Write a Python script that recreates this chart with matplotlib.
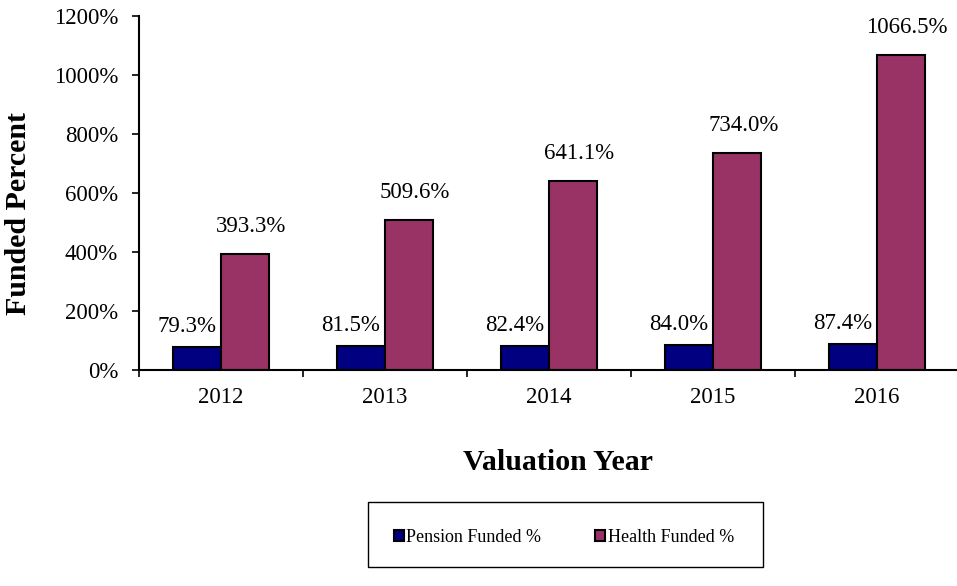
import matplotlib.pyplot as plt
import numpy as np
from matplotlib.patches import Patch, Rectangle

years = ['2012', '2013', '2014', '2015', '2016']
pension = [79.3, 81.5, 82.4, 84.0, 87.4]
health = [393.3, 509.6, 641.1, 734.0, 1066.5]

plt.rcParams['font.family'] = ['Liberation Serif', 'DejaVu Serif']

fig = plt.figure(figsize=(9.57, 5.86), dpi=100)
ax = fig.add_axes([139 / 957, 1 - 370 / 586, 820 / 957, 354 / 586])

x = np.arange(len(years))
w = 0.295
ax.bar(x - w / 2, pension, w, color='#000080', edgecolor='black', linewidth=1.5)
ax.bar(x + w / 2, health, w, color='#993366', edgecolor='black', linewidth=1.5)

# value labels
for i in range(len(years)):
    ax.annotate(f'{pension[i]:.1f}%', (x[i] - w / 2, pension[i]), xytext=(-10, 15),
                textcoords='offset pixels', ha='center', va='baseline', fontsize=16.5)
    ax.annotate(f'{health[i]:.1f}%', (x[i] + w / 2, health[i]), xytext=(6, 22),
                textcoords='offset pixels', ha='center', va='baseline', fontsize=16.5)

ax.set_xlim(-0.5, 4.5)
ax.set_ylim(0, 1200)
ax.set_yticks(range(0, 1201, 200))
ax.set_yticklabels([f'{v}%' for v in range(0, 1201, 200)], fontsize=16.5)
ax.set_xticks(x)
ax.set_xticklabels(years, fontsize=16.5)
ax.set_xticks(np.arange(-0.5, 5, 1), minor=True)
ax.tick_params(axis='x', which='major', length=0, pad=12)
ax.tick_params(axis='x', which='minor', length=5, width=1.2)
ax.tick_params(axis='y', length=5, width=1.2, pad=10)
for s in ['left', 'bottom']:
    ax.spines[s].set_linewidth(1.5)
for s in ['top', 'right']:
    ax.spines[s].set_visible(False)

ax.set_ylabel('Funded Percent', fontsize=21.5, fontweight='bold')
ax.set_xlabel('Valuation Year', fontsize=21.5, fontweight='bold')
ax.yaxis.set_label_coords(-0.131, 0.443)
ax.xaxis.set_label_coords(0.511, -0.222)

# legend box drawn separately so its size matches
fig.patches.append(Rectangle((368 / 957, 1 - 567 / 586), 395 / 957, 65 / 586,
                             transform=fig.transFigure, facecolor='white',
                             edgecolor='black', linewidth=1))
handles = [Patch(facecolor='#000080', edgecolor='black', linewidth=1.5, label='Pension Funded %'),
           Patch(facecolor='#993366', edgecolor='black', linewidth=1.5, label='Health Funded %')]
fig.legend(handles=handles, loc='center', bbox_to_anchor=(564 / 957, 1 - 537 / 586),
           ncol=2, fontsize=13, frameon=False, handlelength=0.55,
           handleheight=0.55, handletextpad=0.15, columnspacing=3.0,
           borderpad=0, borderaxespad=0)

fig.savefig('out.png', dpi=100)
